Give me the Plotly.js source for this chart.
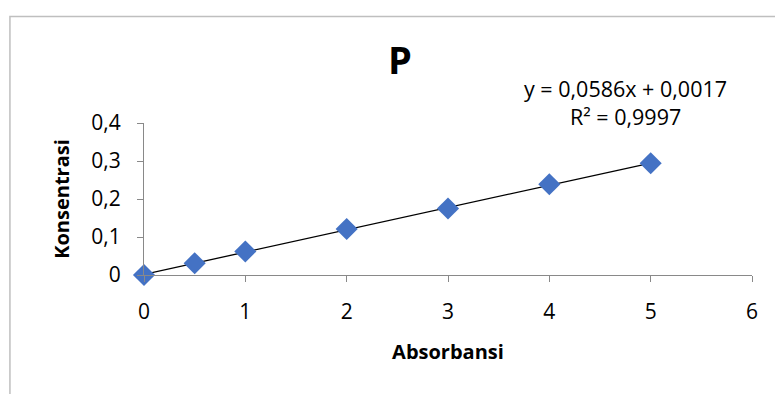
<!DOCTYPE html>
<html><head><meta charset="utf-8">
<script src="https://cdn.plot.ly/plotly-3.0.1.min.js"></script>
<style>html,body{margin:0;padding:0;background:#fff}#chart{width:775px;height:394px}</style>
</head><body><div id="chart"></div>
<script>
const absorbansi = [0, 0.5, 1, 2, 3, 4, 5];
const konsentrasi = [0, 0.031, 0.062, 0.121, 0.175, 0.239, 0.294];
const slope = 0.0586;
const intercept = 0.0017;
const trendX = [0, 5];
const xTicks = [0, 1, 2, 3, 4, 5, 6];
const yTicks = [0, 0.1, 0.2, 0.3, 0.4];
const yTickText = ['0', '0,1', '0,2', '0,3', '0,4'];
const eqText = 'y = 0,0586x + 0,0017';
const r2Text = 'R² = 0,9997';

const font = 'Open Sans, Noto Sans, sans-serif';
const axisCol = '#898989';

const traces = [
  {x: trendX, y: trendX.map(v => slope * v + intercept), mode: 'lines', type: 'scatter',
   line: {color: '#000', width: 1.3}, hoverinfo: 'skip', showlegend: false},
  {x: absorbansi, y: konsentrasi, mode: 'markers', type: 'scatter',
   marker: {symbol: 'diamond', size: 17, color: '#4472C4'}, showlegend: false, cliponaxis: false}
];

const layout = {
  width: 775, height: 394,
  margin: {l: 144, r: 23, t: 123, b: 119},
  paper_bgcolor: '#fff', plot_bgcolor: '#fff',
  showlegend: false,
  title: {text: '<b>P</b>', x: 0.516, xanchor: 'center', y: 0.845, yanchor: 'middle',
          font: {family: font, size: 38, color: '#000'}},
  xaxis: {range: [0, 6], tickvals: xTicks, ticktext: xTicks.map(String),
          showgrid: false, zeroline: false, showline: true, linecolor: axisCol, linewidth: 1,
          ticks: 'outside', ticklen: 6, tickcolor: axisCol, ticklabelstandoff: 12,
          tickfont: {family: font, size: 21, color: '#000'},
          title: {text: '<b>Absorbansi</b>', standoff: 20, font: {family: font, size: 20, color: '#000'}}},
  yaxis: {range: [0, 0.4], tickvals: yTicks, ticktext: yTickText,
          showgrid: false, zeroline: false, showline: true, linecolor: axisCol, linewidth: 1,
          ticks: 'outside', ticklen: 6, tickcolor: axisCol, ticklabelstandoff: 12,
          tickfont: {family: font, size: 21, color: '#000'},
          title: {text: '<b>Konsentrasi</b>', standoff: 16, font: {family: font, size: 20, color: '#000'}}},
  annotations: [
    {xref: 'paper', yref: 'paper', x: 0.792, y: 1.23, text: eqText, showarrow: false,
     xanchor: 'center', yanchor: 'middle', font: {family: font, size: 21.5, color: '#000'}},
    {xref: 'paper', yref: 'paper', x: 0.792, y: 1.04, text: r2Text, showarrow: false,
     xanchor: 'center', yanchor: 'middle', font: {family: font, size: 21.5, color: '#000'}}
  ],
  shapes: [
    {type: 'rect', xref: 'paper', yref: 'paper', x0: -0.2205, x1: 1.1, y0: -1.0, y1: 1.7,
     line: {color: '#BFBFBF', width: 1.5}, fillcolor: 'rgba(0,0,0,0)', layer: 'below'}
  ]
};

Plotly.newPlot('chart', traces, layout, {displayModeBar: false, staticPlot: true});
</script></body></html>
